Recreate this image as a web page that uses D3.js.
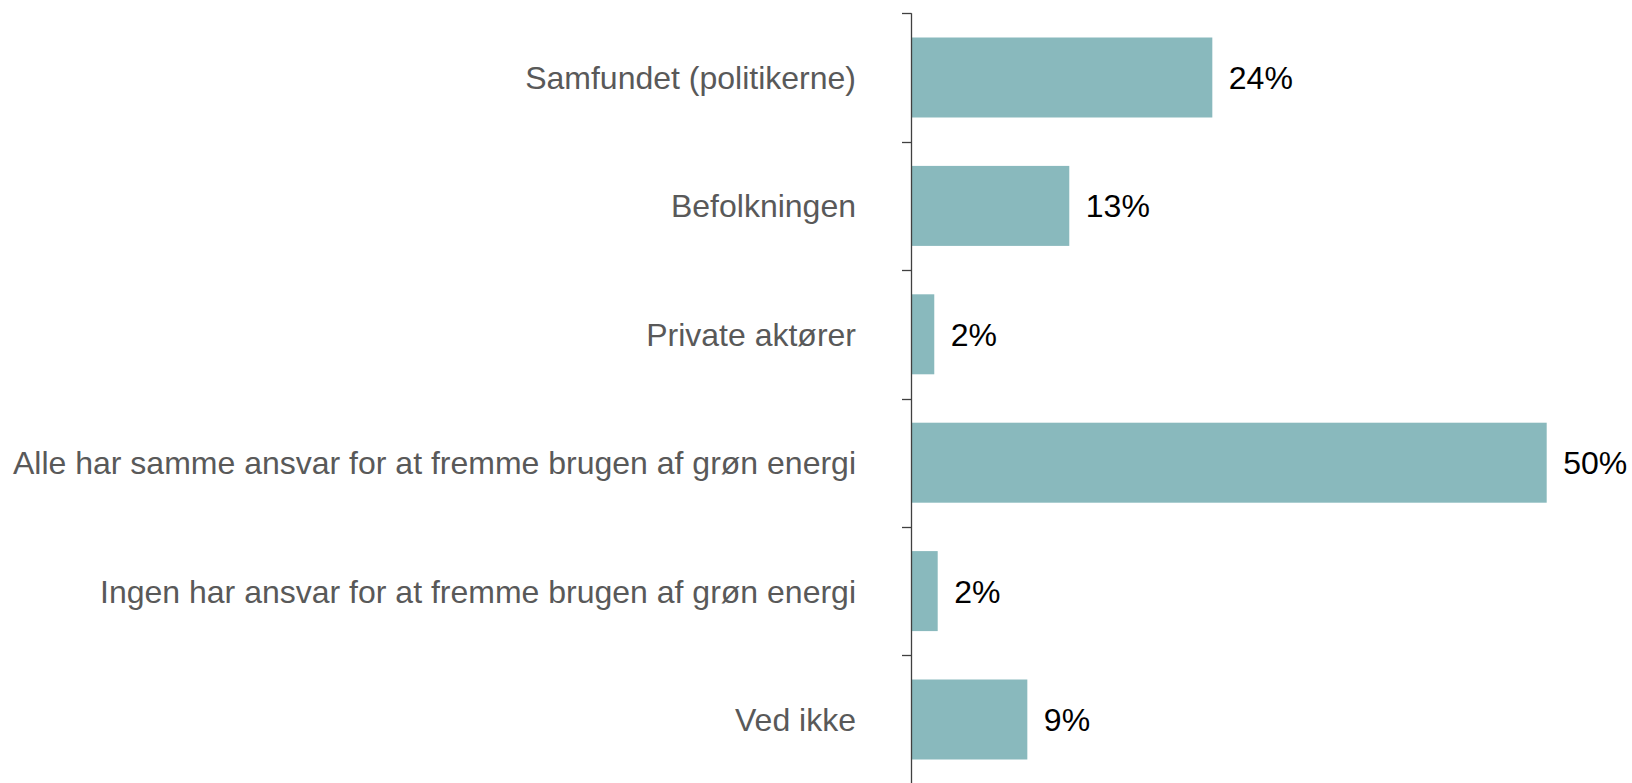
<!DOCTYPE html>
<html>
<head>
<meta charset="utf-8">
<script src="https://cdn.jsdelivr.net/npm/d3@7"></script>
<style>
  body { margin: 0; background: #fff; }
  svg { display: block; }
</style>
</head>
<body>
<div id="chart"></div>
<script>
// data
var categories = [
  "Samfundet (politikerne)",
  "Befolkningen",
  "Private aktører",
  "Alle har samme ansvar for at fremme brugen af grøn energi",
  "Ingen har ansvar for at fremme brugen af grøn energi",
  "Ved ikke"
];
var values = [23.7, 12.45, 1.83, 50.0, 2.1, 9.15];
var labels = ["24%", "13%", "2%", "50%", "2%", "9%"];

var width = 1632, height = 783;
var axisX = 911;

var svg = d3.select("#chart").append("svg")
  .attr("width", width)
  .attr("height", height);

var y = d3.scaleBand()
  .domain(categories)
  .range([13.3, 783.7])
  .paddingInner(0.377)
  .paddingOuter(0.1885);

var x = d3.scaleLinear()
  .domain([0, 50])
  .range([axisX, 1546.7]);

var rows = categories.map(function(c, i) { return {cat: c, val: values[i], lab: labels[i]}; });

// bars
svg.append("g")
  .selectAll("rect")
  .data(rows)
  .enter()
  .append("rect")
    .attr("x", x(0))
    .attr("y", function(d) { return y(d.cat); })
    .attr("width", function(d) { return x(d.val) - x(0); })
    .attr("height", y.bandwidth())
    .attr("fill", "#89b9bd");

// value labels
svg.append("g")
  .selectAll("text")
  .data(rows)
  .enter()
  .append("text")
    .attr("x", function(d) { return x(d.val) + 16.5; })
    .attr("y", function(d) { return y(d.cat) + y.bandwidth() / 2; })
    .attr("dy", "0.358em")
    .style("font-family", "'Liberation Sans', Arial, sans-serif")
    .style("font-size", "32px")
    .style("fill", "#000")
    .text(function(d) { return d.lab; });

// category labels
svg.append("g")
  .selectAll("text")
  .data(rows)
  .enter()
  .append("text")
    .attr("x", 856)
    .attr("y", function(d) { return y(d.cat) + y.bandwidth() / 2; })
    .attr("dy", "0.358em")
    .attr("text-anchor", "end")
    .style("font-family", "'Liberation Sans', Arial, sans-serif")
    .style("font-size", "32px")
    .style("fill", "#595959")
    .text(function(d) { return d.cat; });

// axis line + ticks on category boundaries
var step = y.step();
var bounds = d3.range(categories.length + 1).map(function(i) { return 13.3 + i * step; });

svg.append("line")
  .attr("x1", axisX + 0.5).attr("x2", axisX + 0.5)
  .attr("y1", bounds[0]).attr("y2", bounds[bounds.length - 1])
  .attr("stroke", "#404040")
  .attr("stroke-width", 1.3);

svg.append("g")
  .selectAll("line")
  .data(bounds)
  .enter()
  .append("line")
    .attr("x1", axisX - 9).attr("x2", axisX + 0.5)
    .attr("y1", function(d) { return Math.round(d) + 0.5; })
    .attr("y2", function(d) { return Math.round(d) + 0.5; })
    .attr("stroke", "#404040")
    .attr("stroke-width", 1.3);
</script>
</body>
</html>
